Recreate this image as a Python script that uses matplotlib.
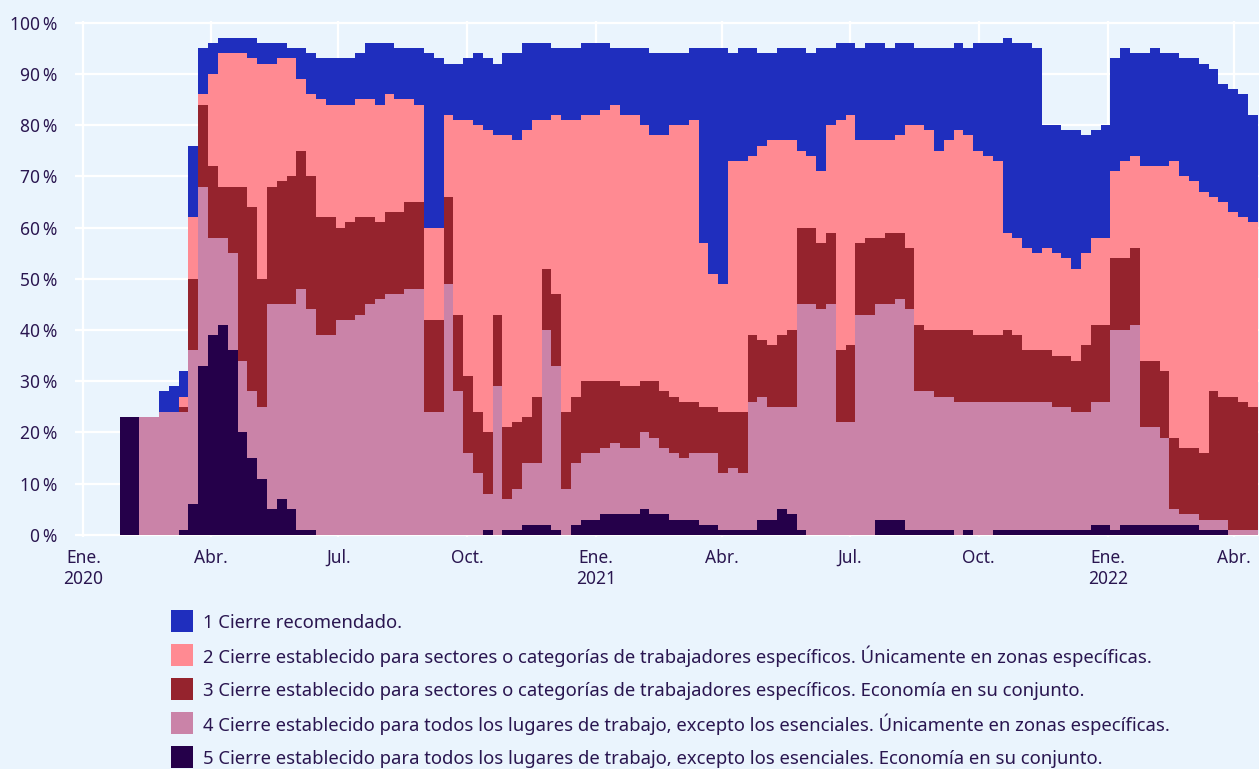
import numpy as np
import pandas as pd
import matplotlib
matplotlib.use('Agg')
import matplotlib.pyplot as plt
from matplotlib.patches import Rectangle

plt.rcParams['font.family'] = ['Noto Sans', 'DejaVu Sans']

# weekly samples, values (% of countries)
weeks = pd.date_range('2020-01-27', periods=117, freq='7D')

# upper edge of each stacked band (cumulative share, bottom band = 5)
top_5 = [23, 23, 0, 0, 0, 0, 1, 6, 33, 39, 41, 36, 20, 15, 11, 5, 7, 5, 1, 1,
         0, 0, 0, 0, 0, 0, 0, 0, 0, 0, 0, 0, 0, 0, 0, 0, 0, 1, 0, 1,
         1, 2, 2, 2, 1, 0, 2, 3, 3, 4, 4, 4, 4, 5, 4, 4, 3, 3, 3, 2,
         2, 1, 1, 1, 1, 3, 3, 5, 4, 1, 0, 0, 0, 0, 0, 0, 0, 3, 3, 3,
         1, 1, 1, 1, 1, 0, 1, 0, 0, 1, 1, 1, 1, 1, 1, 1, 1, 1, 1, 2,
         2, 1, 2, 2, 2, 2, 2, 2, 2, 2, 1, 1, 1, 0, 0, 0, 0]
top_4 = [23, 23, 23, 23, 24, 24, 24, 36, 68, 58, 58, 55, 34, 28, 25, 45, 45, 45, 48, 44,
         39, 39, 42, 42, 43, 45, 46, 47, 47, 48, 48, 24, 24, 49, 28, 16, 12, 8, 29, 7,
         9, 14, 14, 40, 33, 9, 14, 16, 16, 17, 18, 17, 17, 20, 19, 17, 16, 15, 16, 16,
         16, 12, 13, 12, 26, 27, 25, 25, 25, 45, 45, 44, 45, 22, 22, 43, 43, 45, 45, 46,
         44, 28, 28, 27, 27, 26, 26, 26, 26, 26, 26, 26, 26, 26, 26, 25, 25, 24, 24, 26,
         26, 40, 40, 41, 21, 21, 19, 5, 4, 4, 3, 3, 3, 1, 1, 1, 1]
top_3 = [23, 23, 23, 23, 24, 24, 25, 50, 84, 72, 68, 68, 68, 64, 50, 68, 69, 70, 75, 70,
         62, 62, 60, 61, 62, 62, 61, 63, 63, 65, 65, 42, 42, 66, 43, 31, 24, 20, 43, 21,
         22, 23, 27, 52, 47, 24, 27, 30, 30, 30, 30, 29, 29, 30, 30, 28, 27, 26, 26, 25,
         25, 24, 24, 24, 39, 38, 37, 39, 40, 60, 60, 57, 59, 36, 37, 57, 58, 58, 59, 59,
         56, 41, 40, 40, 40, 40, 40, 39, 39, 39, 40, 39, 36, 36, 36, 35, 35, 34, 37, 41,
         41, 54, 54, 56, 34, 34, 32, 19, 17, 17, 16, 28, 27, 27, 26, 25, 25]
top_2 = [23, 23, 23, 23, 24, 24, 27, 62, 86, 90, 94, 94, 94, 93, 92, 92, 93, 93, 89, 86,
         85, 84, 84, 84, 85, 85, 84, 86, 85, 85, 84, 60, 60, 82, 81, 81, 80, 79, 78, 78,
         77, 79, 81, 81, 82, 81, 81, 82, 82, 83, 84, 82, 82, 80, 78, 78, 80, 80, 81, 57,
         51, 49, 73, 73, 74, 76, 77, 77, 77, 75, 74, 71, 80, 81, 82, 77, 77, 77, 77, 78,
         80, 80, 79, 75, 77, 79, 78, 75, 74, 73, 59, 58, 56, 55, 56, 55, 54, 52, 55, 58,
         58, 71, 73, 74, 72, 72, 72, 73, 70, 69, 67, 66, 65, 63, 62, 61, 61]
top_1 = [23, 23, 23, 23, 28, 29, 32, 76, 95, 96, 97, 97, 97, 97, 96, 96, 96, 95, 95, 94,
         93, 93, 93, 93, 94, 96, 96, 96, 95, 95, 95, 94, 93, 92, 92, 93, 94, 93, 92, 94,
         94, 96, 96, 96, 95, 95, 95, 96, 96, 96, 95, 95, 95, 95, 94, 94, 94, 94, 95, 95,
         95, 95, 94, 95, 95, 94, 94, 95, 95, 95, 94, 95, 95, 96, 96, 95, 96, 96, 95, 96,
         96, 95, 95, 95, 95, 96, 95, 96, 96, 96, 97, 96, 96, 95, 80, 80, 79, 79, 78, 79,
         80, 93, 95, 94, 94, 95, 94, 94, 93, 93, 92, 91, 88, 87, 86, 82, 78]

labels = [
    '1 Cierre recomendado.',
    '2 Cierre establecido para sectores o categorías de trabajadores específicos. Únicamente en zonas específicas.',
    '3 Cierre establecido para sectores o categorías de trabajadores específicos. Economía en su conjunto.',
    '4 Cierre establecido para todos los lugares de trabajo, excepto los esenciales. Únicamente en zonas específicas.',
    '5 Cierre establecido para todos los lugares de trabajo, excepto los esenciales. Economía en su conjunto.',
]
colors = ['#1f2ebe', '#ff8a92', '#95232d', '#ca83a8', '#25004a']

tick_dates = pd.date_range('2020-01-01', '2022-04-01', freq='QS')
tick_labels = ['Ene.\n2020', 'Abr.', 'Jul.', 'Oct.', 'Ene.\n2021', 'Abr.', 'Jul.', 'Oct.',
               'Ene.\n2022', 'Abr.']

bg = '#eaf4fd'
txt = '#2a1650'

fig = plt.figure(figsize=(12.59, 7.69), dpi=100, facecolor=bg)
ax = fig.add_axes([75 / 1259, 1 - 536.5 / 769, 1 - 75 / 1259, (536.5 - 21) / 769])
ax.set_facecolor(bg)

edges = [np.zeros(len(weeks)), top_5, top_4, top_3, top_2, top_1]
band_colors = colors[::-1]
for i in range(5):
    ax.fill_between(weeks, edges[i], edges[i + 1], step='post',
                    color=band_colors[i], lw=0, zorder=2)

ax.set_xlim(pd.Timestamp('2019-12-26'), pd.Timestamp('2022-04-19'))
ax.set_ylim(-0.3, 100.3)
ax.set_yticks(range(0, 101, 10))
ax.set_yticklabels([f'{v}\u2009%' for v in range(0, 101, 10)])
ax.set_xticks(tick_dates)
ax.set_xticklabels(tick_labels)
ax.grid(color='white', lw=1.6)
ax.set_axisbelow(True)
ax.tick_params(length=0, labelsize=12.5, colors=txt)
ax.tick_params(axis='y', pad=13)
ax.tick_params(axis='x', pad=9)
for s in ax.spines.values():
    s.set_visible(False)

# legend drawn below the chart
for i, (lab, c) in enumerate(zip(labels, colors)):
    yc = 621 + 34 * i
    fig.add_artist(Rectangle((171 / 1259, 1 - (yc + 11) / 769), 22 / 1259, 22 / 769,
                             transform=fig.transFigure, color=c, lw=0))
    fig.text(203 / 1259, 1 - (yc + 1.5) / 769, lab, fontsize=13.3, color=txt,
             va='center', ha='left')

fig.savefig('out.png', dpi=100, facecolor=bg)
